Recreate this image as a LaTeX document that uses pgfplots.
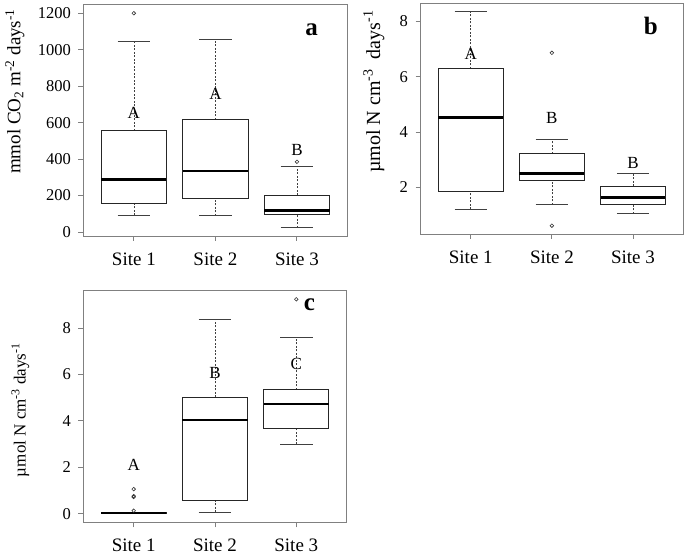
\documentclass[border=0pt]{standalone}
\usepackage{fontspec}
\setmainfont{Liberation Serif}
\usepackage{pgfplots}
\pgfplotsset{compat=1.18}
\usepgfplotslibrary{statistics}

% R-style boxes: dashed whiskers, solid caps, heavy median
\pgfplotsset{
  rbox/.style={
    scale only axis,
    anchor=south west,
    xmin=0.38, xmax=3.62,
    xtick={1,2,3},
    xticklabels={Site 1, Site 2, Site 3},
    xtick pos=bottom, ytick pos=left,
    tick align=outside,
    major tick length=5pt,
    axis line style={black!50, line width=0.9pt},
    tick style={black!50, line width=0.9pt},
    /pgf/number format/assume math mode=true,
    /pgf/number format/1000 sep={},
    yticklabel style={font=\fontsize{16.5}{16.5}\selectfont, xshift=-4pt},
    xticklabel style={font=\fontsize{19}{19}\selectfont, yshift=-8pt},
    boxplot/draw direction=y,
    boxplot/box extend=0.8,
    boxplot/whisker extend=0.4,
    boxplot/every median/.style={line width=2.4pt, black},
    boxplot/draw/lower whisker/.code={%
      \draw[black!75, line width=0.7pt, dash pattern=on 2pt off 1.5pt]
        (boxplot box cs:\pgfplotsboxplotvalue{lower whisker},0.5) --
        (boxplot box cs:\pgfplotsboxplotvalue{lower quartile},0.5);
      \draw[black!75, line width=0.9pt]
        (boxplot whisker cs:\pgfplotsboxplotvalue{lower whisker},0) --
        (boxplot whisker cs:\pgfplotsboxplotvalue{lower whisker},1);
    },
    boxplot/draw/upper whisker/.code={%
      \draw[black!75, line width=0.7pt, dash pattern=on 2pt off 1.5pt]
        (boxplot box cs:\pgfplotsboxplotvalue{upper quartile},0.5) --
        (boxplot box cs:\pgfplotsboxplotvalue{upper whisker},0.5);
      \draw[black!75, line width=0.9pt]
        (boxplot whisker cs:\pgfplotsboxplotvalue{upper whisker},0) --
        (boxplot whisker cs:\pgfplotsboxplotvalue{upper whisker},1);
    },
  },
  bx/.style={draw=black!85, line width=0.9pt, solid,
    mark=o, mark size=1.8pt, mark options={black!80, line width=0.6pt}},
}
\newcommand{\grp}[1]{\fontsize{17}{17}\selectfont #1}
\newcommand{\pan}[1]{\fontsize{25}{25}\selectfont\bfseries #1}

\begin{document}
\begin{tikzpicture}[x=1pt, y=1pt]
\useasboundingbox (0,0) rectangle (685,557);

% ---- panel a
\begin{axis}[rbox, at={(83.3pt,321pt)}, width=264.2pt, height=231.3pt,
  ymin=-22, ymax=1247, ytick={0,200,400,600,800,1000,1200}]
  \addplot[bx, boxplot prepared={draw position=1, lower whisker=93,
    lower quartile=157, median=288, upper quartile=556, upper whisker=1043}]
    table[row sep=\\, y index=0] {y\\ 1200\\};
  \addplot[bx, boxplot prepared={draw position=2, lower whisker=88,
    lower quartile=184, median=334, upper quartile=617, upper whisker=1058}]
    coordinates {};
  \addplot[bx, boxplot prepared={draw position=3, lower whisker=24,
    lower quartile=97, median=117, upper quartile=202, upper whisker=361}]
    table[row sep=\\, y index=0] {y\\ 385\\};
  \node at (axis cs:1,655) {\grp{A}};
  \node at (axis cs:2,759) {\grp{A}};
  \node at (axis cs:3,452) {\grp{B}};
  \node at (axis cs:3.18,1110) {\pan{a}};
\end{axis}

% ---- panel b
\begin{axis}[rbox, at={(420.5pt,323pt)}, width=262.8pt, height=230.5pt,
  ymin=0.32, ymax=8.64, ytick={2,4,6,8}]
  \addplot[bx, boxplot prepared={draw position=1, lower whisker=1.21,
    lower quartile=1.87, median=4.52, upper quartile=6.28, upper whisker=8.36}]
    coordinates {};
  \addplot[bx, boxplot prepared={draw position=2, lower whisker=1.37,
    lower quartile=2.26, median=2.51, upper quartile=3.21, upper whisker=3.74}]
    table[row sep=\\, y index=0] {y\\ 6.86\\ 0.62\\};
  \addplot[bx, boxplot prepared={draw position=3, lower whisker=1.05,
    lower quartile=1.37, median=1.64, upper quartile=2.05, upper whisker=2.49}]
    coordinates {};
  \node at (axis cs:1,6.82) {\grp{A}};
  \node at (axis cs:2,4.50) {\grp{B}};
  \node at (axis cs:3,2.88) {\grp{B}};
  \node at (axis cs:3.22,7.82) {\pan{b}};
\end{axis}

% ---- panel c
\begin{axis}[rbox, at={(83.3pt,34.7pt)}, width=263.4pt, height=231.8pt,
  ymin=-0.37, ymax=9.62, ytick={0,2,4,6,8}]
  \addplot[bx, boxplot prepared={draw position=1, lower whisker=0,
    lower quartile=0, median=0.03, upper quartile=0.05, upper whisker=0.05}]
    table[row sep=\\, y index=0] {y\\ 1.06\\ 0.76\\ 0.72\\ 0.13\\};
  \addplot[bx, boxplot prepared={draw position=2, lower whisker=0.06,
    lower quartile=0.57, median=4.03, upper quartile=5.01, upper whisker=8.39}]
    coordinates {};
  \addplot[bx, boxplot prepared={draw position=3, lower whisker=3.0,
    lower quartile=3.67, median=4.72, upper quartile=5.34, upper whisker=7.61}]
    table[row sep=\\, y index=0] {y\\ 9.24\\};
  \node at (axis cs:1,2.11) {\grp{A}};
  \node at (axis cs:2,6.06) {\grp{B}};
  \node at (axis cs:3,6.45) {\grp{C}};
  \node at (axis cs:3.16,9.0) {\pan{c}};
\end{axis}

% axis titles
\node[rotate=90, font=\fontsize{19}{19}\selectfont] at (15,465.5)
  {mmol CO\textsubscript{2} m\textsuperscript{-2} days\textsuperscript{-1}};
\node[rotate=90, font=\fontsize{20}{20}\selectfont] at (374,465.5)
  {µmol N cm\textsuperscript{-3}\ \ days\textsuperscript{-1}};
\node[rotate=90, font=\fontsize{17}{17}\selectfont] at (20.5,147)
  {µmol N cm\textsuperscript{-3} days\textsuperscript{-1}};
\end{tikzpicture}
\end{document}
